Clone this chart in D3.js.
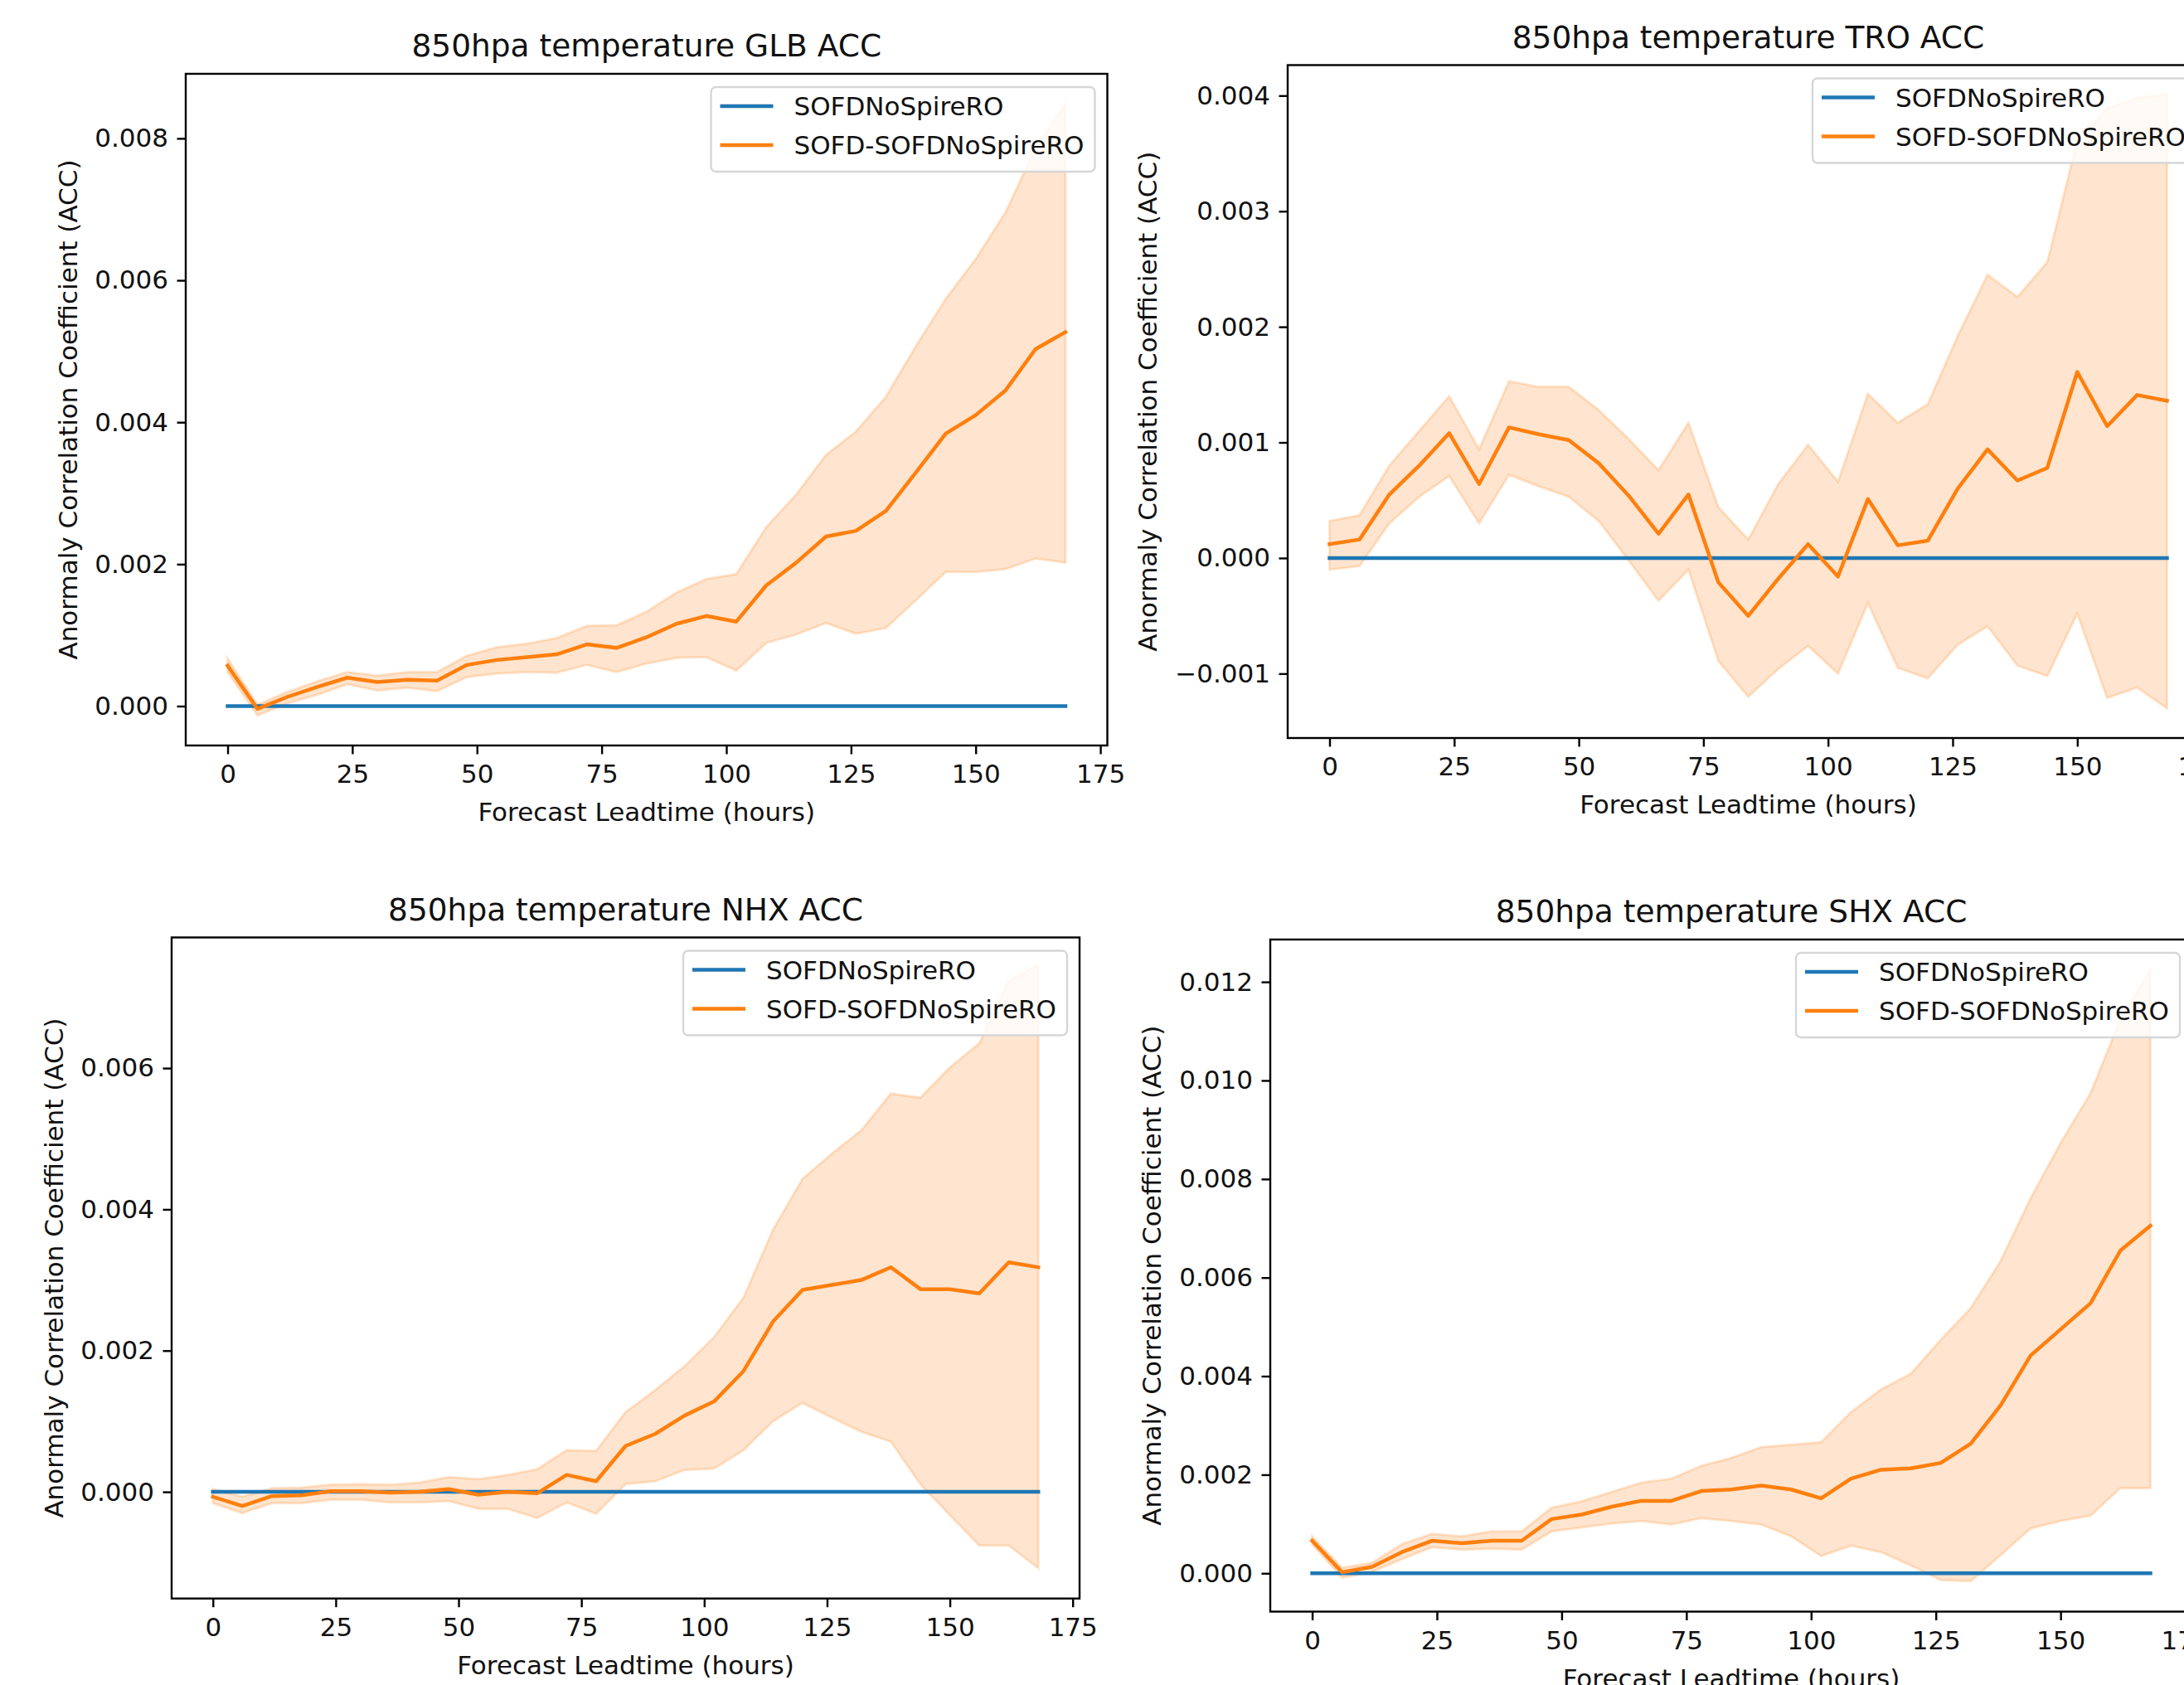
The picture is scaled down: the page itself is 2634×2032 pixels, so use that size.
<!DOCTYPE html>
<html>
<head>
<meta charset="utf-8">
<script src="https://cdn.jsdelivr.net/npm/d3@7"></script>
<style>
  body { margin: 0; background: #fff; }
  svg { display: block; font-family: "DejaVu Sans", sans-serif; }
</style>
</head>
<body>
<script>
// lead times, hours
var leadHours = [0, 6, 12, 18, 24, 30, 36, 42, 48, 54, 60, 66, 72, 78, 84, 90, 96, 102, 108, 114, 120, 126, 132, 138, 144, 150, 156, 162, 168];
// control run minus itself
var controlLine = [0, 0, 0, 0, 0, 0, 0, 0, 0, 0, 0, 0, 0, 0, 0, 0, 0, 0, 0, 0, 0, 0, 0, 0, 0, 0, 0, 0, 0];

var seriesNames = ["SOFDNoSpireRO", "SOFD-SOFDNoSpireRO"];
var panelTitles = ["850hpa temperature GLB ACC", "850hpa temperature TRO ACC", "850hpa temperature NHX ACC", "850hpa temperature SHX ACC"];
var xTicks = [0, 25, 50, 75, 100, 125, 150, 175];

// GLB
var glbMean  = [0.00057, -0.00004, 0.00013, 0.00027, 0.00040, 0.00034, 0.00037, 0.00036, 0.00058, 0.00065, 0.00069, 0.00073, 0.00087, 0.00082, 0.00097, 0.00116, 0.00127, 0.00119, 0.00170, 0.00202, 0.00239, 0.00247, 0.00275, 0.00329, 0.00384, 0.00410, 0.00445, 0.00503, 0.00527];
var glbUpper = [0.00067, 0.00002, 0.00020, 0.00035, 0.00048, 0.00043, 0.00048, 0.00048, 0.00071, 0.00083, 0.00088, 0.00096, 0.00113, 0.00114, 0.00133, 0.00160, 0.00179, 0.00186, 0.00252, 0.00298, 0.00354, 0.00387, 0.00436, 0.00507, 0.00574, 0.00630, 0.00696, 0.00786, 0.00849];
var glbLower = [0.00048, -0.00013, 0.00004, 0.00016, 0.00031, 0.00022, 0.00026, 0.00021, 0.00041, 0.00046, 0.00048, 0.00047, 0.00058, 0.00048, 0.00060, 0.00068, 0.00069, 0.00050, 0.00089, 0.00101, 0.00117, 0.00102, 0.00110, 0.00149, 0.00189, 0.00189, 0.00193, 0.00208, 0.00202];
var glbTicks = [0, 0.002, 0.004, 0.006, 0.008];

// TRO
var troMean  = [0.00012, 0.00016, 0.00055, 0.00080, 0.00108, 0.00064, 0.00113, 0.00107, 0.00102, 0.00082, 0.00054, 0.00021, 0.00055, -0.00021, -0.00050, -0.00018, 0.00012, -0.00016, 0.00051, 0.00011, 0.00015, 0.00060, 0.00094, 0.00067, 0.00078, 0.00161, 0.00114, 0.00141, 0.00136];
var troUpper = [0.00032, 0.00037, 0.00080, 0.00110, 0.00140, 0.00094, 0.00153, 0.00148, 0.00148, 0.00128, 0.00103, 0.00076, 0.00117, 0.00044, 0.00016, 0.00064, 0.00098, 0.00066, 0.00142, 0.00117, 0.00133, 0.00192, 0.00245, 0.00226, 0.00256, 0.00361, 0.00389, 0.00398, 0.00401];
var troLower = [-0.00010, -0.00007, 0.00030, 0.00053, 0.00071, 0.00030, 0.00072, 0.00062, 0.00053, 0.00032, -0.00002, -0.00037, -0.00010, -0.00089, -0.00120, -0.00096, -0.00076, -0.00100, -0.00039, -0.00095, -0.00104, -0.00075, -0.00059, -0.00093, -0.00102, -0.00048, -0.00121, -0.00112, -0.00130];
var troTicks = [-0.001, 0, 0.001, 0.002, 0.003, 0.004];

// NHX
var nhxMean  = [-0.00007, -0.00020, -0.00006, -0.00005, 0.00001, 0.00001, -0.00001, 0.00000, 0.00004, -0.00004, 0.00000, -0.00002, 0.00024, 0.00015, 0.00065, 0.00082, 0.00108, 0.00128, 0.00171, 0.00241, 0.00286, 0.00293, 0.00300, 0.00318, 0.00287, 0.00287, 0.00281, 0.00325, 0.00318];
var nhxUpper = [0.00004, -0.00007, 0.00005, 0.00006, 0.00010, 0.00011, 0.00010, 0.00013, 0.00021, 0.00018, 0.00024, 0.00032, 0.00059, 0.00058, 0.00113, 0.00144, 0.00178, 0.00219, 0.00275, 0.00371, 0.00443, 0.00479, 0.00512, 0.00564, 0.00558, 0.00601, 0.00635, 0.00724, 0.00746];
var nhxLower = [-0.00016, -0.00030, -0.00016, -0.00016, -0.00011, -0.00011, -0.00015, -0.00015, -0.00013, -0.00024, -0.00024, -0.00037, -0.00015, -0.00031, 0.00011, 0.00015, 0.00031, 0.00033, 0.00059, 0.00100, 0.00126, 0.00105, 0.00085, 0.00071, 0.00011, -0.00033, -0.00076, -0.00076, -0.00108];
var nhxTicks = [0, 0.002, 0.004, 0.006];

// SHX
var shxMean  = [0.00066, 0.00002, 0.00013, 0.00043, 0.00066, 0.00061, 0.00066, 0.00066, 0.00110, 0.00119, 0.00135, 0.00147, 0.00147, 0.00167, 0.00170, 0.00178, 0.00170, 0.00152, 0.00192, 0.00210, 0.00213, 0.00224, 0.00263, 0.00341, 0.00442, 0.00495, 0.00548, 0.00655, 0.00705];
var shxUpper = [0.00075, 0.00011, 0.00021, 0.00059, 0.00080, 0.00075, 0.00085, 0.00085, 0.00133, 0.00146, 0.00165, 0.00184, 0.00192, 0.00218, 0.00234, 0.00256, 0.00261, 0.00266, 0.00327, 0.00373, 0.00405, 0.00474, 0.00538, 0.00634, 0.00761, 0.00873, 0.00974, 0.01124, 0.01225];
var shxLower = [0.00059, -0.00009, 0.00003, 0.00029, 0.00053, 0.00048, 0.00050, 0.00048, 0.00085, 0.00093, 0.00101, 0.00106, 0.00099, 0.00112, 0.00106, 0.00099, 0.00075, 0.00035, 0.00056, 0.00043, 0.00016, -0.00014, -0.00016, 0.00037, 0.00091, 0.00106, 0.00117, 0.00173, 0.00173];
var shxTicks = [0, 0.002, 0.004, 0.006, 0.008, 0.010, 0.012];

var width = 2634, height = 2032;
var blue = "#1f77b4", orange = "#ff7f0e";

var svg = d3.select("body").append("svg")
    .attr("width", width).attr("height", height);
svg.append("rect").attr("width", width).attr("height", height).attr("fill", "#fff");

// box = axes rectangle in page pixels, yDomain = axis limits as seen
var panels = [
  {title: panelTitles[0], box: [224, 89, 1335.5, 899], yDomain: [-0.000555, 0.00891], yTicks: glbTicks, mean: glbMean, upper: glbUpper, lower: glbLower, ylabelOff: 143},
  {title: panelTitles[1], box: [1553, 78.5, 2664, 890], yDomain: [-0.001557, 0.004264], yTicks: troTicks, mean: troMean, upper: troUpper, lower: troLower, ylabelOff: 170},
  {title: panelTitles[2], box: [207, 1130.5, 1302, 1927.7], yDomain: [-0.00151, 0.00785], yTicks: nhxTicks, mean: nhxMean, upper: nhxUpper, lower: nhxLower, ylabelOff: 143},
  {title: panelTitles[3], box: [1532, 1133, 2644, 1943.5], yDomain: [-0.000778, 0.01286], yTicks: shxTicks, mean: shxMean, upper: shxUpper, lower: shxLower, ylabelOff: 144}
];

var fmtY = function(d){ return d3.format(".3f")(d).replace("-", "\u2212"); };

panels.forEach(function(p, k){
    var left = p.box[0], top = p.box[1], right = p.box[2], bottom = p.box[3];
    var x = d3.scaleLinear().domain([-8.4, 176.4]).range([left, right]);
    var y = d3.scaleLinear().domain(p.yDomain).range([bottom, top]);

    var g = svg.append("g");
    var clipId = "clip" + k;
    g.append("clipPath").attr("id", clipId).append("rect")
        .attr("x", left).attr("y", top).attr("width", right - left).attr("height", bottom - top);

    var plot = g.append("g").attr("clip-path", "url(#" + clipId + ")");

    // spread band
    var band = d3.area()
        .x(function(d, i){ return x(leadHours[i]); })
        .y0(function(d, i){ return y(p.lower[i]); })
        .y1(function(d, i){ return y(p.upper[i]); });
    plot.append("path")
        .attr("d", band(p.mean))
        .attr("fill", orange).attr("fill-opacity", 0.2)
        .attr("stroke", orange).attr("stroke-opacity", 0.2).attr("stroke-width", 3);

    var line = d3.line()
        .x(function(d, i){ return x(leadHours[i]); })
        .y(function(d){ return y(d); });
    plot.append("path").attr("d", line(controlLine))
        .attr("fill", "none").attr("stroke", blue).attr("stroke-width", 4.5)
        .attr("stroke-linejoin", "round").attr("stroke-linecap", "square");
    plot.append("path").attr("d", line(p.mean))
        .attr("fill", "none").attr("stroke", orange).attr("stroke-width", 4.5)
        .attr("stroke-linejoin", "round").attr("stroke-linecap", "square");

    // axes
    var xAxis = d3.axisBottom(x).tickValues(xTicks).tickFormat(d3.format("d"))
        .tickSize(10.5).tickPadding(12.5);
    var yAxis = d3.axisLeft(y).tickValues(p.yTicks).tickFormat(fmtY)
        .tickSize(10.5).tickPadding(10.5);

    var gx = g.append("g").attr("transform", "translate(0," + bottom + ")").call(xAxis);
    var gy = g.append("g").attr("transform", "translate(" + left + ",0)").call(yAxis);
    [gx, gy].forEach(function(a){
        a.select(".domain").remove();
        a.selectAll("line").attr("stroke", "#000").attr("stroke-width", 2.4);
        a.selectAll("text").attr("fill", "#111").style("font-size", "31px")
            .style("font-family", "DejaVu Sans");
    });

    g.append("rect").attr("x", left).attr("y", top)
        .attr("width", right - left).attr("height", bottom - top)
        .attr("fill", "none").attr("stroke", "#000").attr("stroke-width", 2.4);

    // title and labels
    g.append("text").attr("x", (left + right) / 2).attr("y", top - 21)
        .attr("text-anchor", "middle").attr("fill", "#111")
        .style("font-size", "37.5px").text(p.title);
    g.append("text").attr("x", (left + right) / 2).attr("y", bottom + 91)
        .attr("text-anchor", "middle").attr("fill", "#111")
        .style("font-size", "31px").text("Forecast Leadtime (hours)");
    g.append("text")
        .attr("transform", "translate(" + (left - p.ylabelOff + 12) + "," + ((top + bottom) / 2) + ") rotate(-90)")
        .attr("text-anchor", "middle").attr("fill", "#111")
        .style("font-size", "31px").text("Anormaly Correlation Coefficient (ACC)");

    // legend
    var lw = 463, lh = 102;
    var lx = right - 15 - lw, ly = top + 16;
    var leg = g.append("g").attr("transform", "translate(" + lx + "," + ly + ")");
    leg.append("rect").attr("width", lw).attr("height", lh).attr("rx", 6)
        .attr("fill", "#fff").attr("fill-opacity", 0.8)
        .attr("stroke", "#d6d6d6").attr("stroke-width", 2.4);
    [blue, orange].forEach(function(c, j){
        var ry = 23 + j * 47;
        leg.append("line").attr("x1", 11).attr("x2", 75).attr("y1", ry).attr("y2", ry)
            .attr("stroke", c).attr("stroke-width", 4.5);
        leg.append("text").attr("x", 100).attr("y", ry + 11).attr("fill", "#111")
            .style("font-size", "31px").text(seriesNames[j]);
    });
});
</script>
</body>
</html>
